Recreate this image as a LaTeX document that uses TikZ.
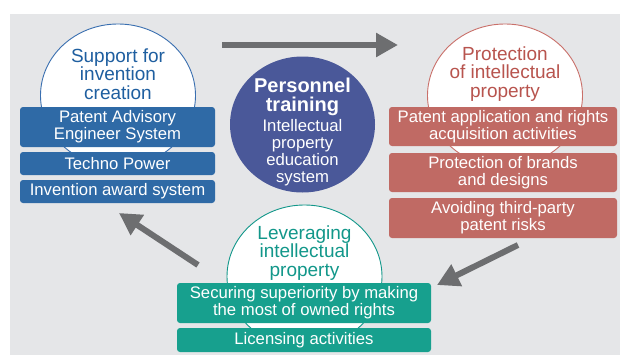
\documentclass[tikz,border=0pt]{standalone}
\usepackage{fontspec}
\setmainfont{Liberation Sans}
\usetikzlibrary{arrows.meta,shapes.geometric}
\definecolor{bggray}{HTML}{E5E6E8}
\definecolor{bluebox}{HTML}{2F6AA6}
\definecolor{bluetxt}{HTML}{1F5FA0}
\definecolor{blueline}{HTML}{3A6FB0}
\definecolor{redbox}{HTML}{C06A64}
\definecolor{redtxt}{HTML}{B8544E}
\definecolor{redline}{HTML}{C9706A}
\definecolor{tealbox}{HTML}{17A08E}
\definecolor{tealtxt}{HTML}{12978A}
\definecolor{navy}{HTML}{4A5899}
\definecolor{arrgray}{HTML}{6D6E70}
\tikzset{
  ring/.style={ellipse, fill=white, line width=0.9pt, minimum width=155pt, minimum height=143pt, inner sep=0pt},
  boxbase/.style={rounded corners=3pt, text=white, align=center, inner sep=0pt,
    font=\fontsize{16.7}{17.2}\selectfont},
  ringtitle/.style={align=center, font=\fontsize{19}{18.5}\selectfont},
  bigarrow/.style={draw=arrgray, line width=6pt, -{Triangle[length=22pt,width=23pt]}, arrgray},
}
\begin{document}
\begin{tikzpicture}[x=1pt,y=-1pt]
\useasboundingbox (0,0) rectangle (624,356);
\fill[bggray] (10,14) rectangle (620,355);
% rings
\node[ring, draw=blueline] (lc) at (118,95.5) {};
\node[ring, draw=redline] (rc) at (505,95.5) {};
\node[ring, draw=tealtxt] (bc) at (304.5,276.5) {};
% left boxes
\node[boxbase, fill=bluebox, minimum width=195pt, minimum height=40pt] (l1) at (117.5,127) {Patent Advisory\\Engineer System};
\node[boxbase, fill=bluebox, minimum width=195pt, minimum height=23pt] (l2) at (117.5,163.5) {Techno Power};
\node[boxbase, fill=bluebox, minimum width=195pt, minimum height=23pt] (l3) at (117.5,191.5) {Invention award system};
% right boxes
\node[boxbase, fill=redbox, minimum width=228pt, minimum height=39pt] (r1) at (503,126.5) {Patent application and rights\\acquisition activities};
\node[boxbase, fill=redbox, minimum width=228pt, minimum height=39pt] (r2) at (503,172.5) {Protection of brands\\and designs};
\node[boxbase, fill=redbox, minimum width=228pt, minimum height=40pt] (r3) at (503,218) {Avoiding third-party\\patent risks};
% bottom boxes
\node[boxbase, fill=tealbox, minimum width=254pt, minimum height=40pt] (b1) at (304,303) {Securing superiority by making\\the most of owned rights};
\node[boxbase, fill=tealbox, minimum width=254pt, minimum height=24pt] (b2) at (304,340) {Licensing activities};
% center circle
\node[ellipse, fill=navy, minimum width=145pt, minimum height=136pt, inner sep=0pt] (cc) at (302.5,124.5) {};
\node[align=center, text=white, inner sep=0pt, font=\fontsize{20}{19}\selectfont\bfseries] (cch) at (302.5,97)
  {Personnel\\training};
\node[align=center, text=white, inner sep=0pt, font=\fontsize{16.7}{17}\selectfont] (cct) at (302.5,153)
  {Intellectual\\property\\education\\system};
% ring titles
\node[ringtitle, text=bluetxt] (lt) at (118,74) {Support for\\invention\\creation};
\node[ringtitle, text=redtxt] (rt) at (505,74) {Protection\\of intellectual\\property};
\node[ringtitle, text=tealtxt] (bt) at (304.5,253) {Leveraging\\intellectual\\property};
% arrows
\coordinate (a1s) at (222,45);
\coordinate (a1e) at (398,45);
\coordinate (a2s) at (198,265);
\coordinate (a2e) at (119,213);
\coordinate (a3s) at (518,245);
\coordinate (a3e) at (437,285);
\draw[bigarrow] (a1s) -- (a1e);
\draw[bigarrow] (a2s) -- (a2e);
\draw[bigarrow] (a3s) -- (a3e);
\end{tikzpicture}
\end{document}
